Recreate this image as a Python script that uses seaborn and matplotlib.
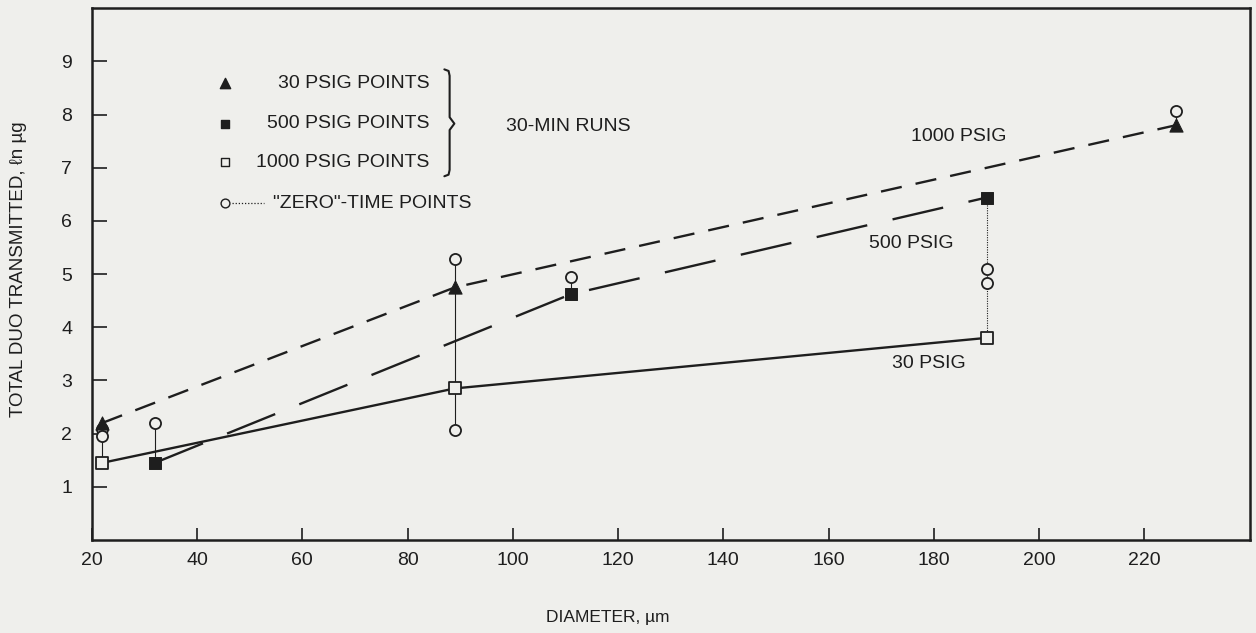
import matplotlib
matplotlib.use("Agg")
import matplotlib.pyplot as plt
import seaborn as sns
import pandas as pd

# ---- data ----
diam_30 = [22, 89, 226]
val_30 = [2.2, 4.75, 7.8]          # filled triangles, "1000 PSIG" dashed line
diam_500 = [32, 111, 190]
val_500 = [1.45, 4.62, 6.44]       # filled squares, "500 PSIG" long-dash line
diam_1000 = [22, 89, 190]
val_1000 = [1.45, 2.85, 3.8]       # open squares, "30 PSIG" solid line
zero_diam = [22, 22, 32, 89, 89, 111, 190, 190, 226]
zero_val = [2.08, 1.95, 2.2, 5.28, 2.06, 4.94, 5.09, 4.83, 8.06]

x_ticks = [20, 40, 60, 80, 100, 120, 140, 160, 180, 200, 220]
y_ticks = [1, 2, 3, 4, 5, 6, 7, 8, 9]

bg = "#efefec"
ink = "#1e1e1e"
fs = 14

sns.set_theme(style="white")
plt.rcParams["font.family"] = ["Liberation Sans", "DejaVu Sans"]

fig = plt.figure(figsize=(12.56, 6.33), dpi=100, facecolor=bg)
ax = fig.add_axes([0.073, 0.147, 0.922, 0.84])
ax.set_facecolor(bg)

df30 = pd.DataFrame({"d": diam_30, "v": val_30})
df500 = pd.DataFrame({"d": diam_500, "v": val_500})
df1000 = pd.DataFrame({"d": diam_1000, "v": val_1000})
dfz = pd.DataFrame({"d": zero_diam, "v": zero_val})

# vertical connectors between zero-time points and run points
alld = pd.concat([df30, df500, df1000, dfz])
for d, g in alld.groupby("d"):
    ls = (0, (1, 1.2)) if d == 190 else "-"
    ax.vlines(d, g["v"].min(), g["v"].max(), color=ink, lw=0.8, linestyle=ls, zorder=1)

# fitted lines
sns.lineplot(data=df30, x="d", y="v", ax=ax, color=ink, lw=1.7, zorder=2)
ax.lines[-1].set_dashes((9, 6))
sns.lineplot(data=df500, x="d", y="v", ax=ax, color=ink, lw=1.7, zorder=2)
ax.lines[-1].set_dashes((22, 11))
sns.lineplot(data=df1000, x="d", y="v", ax=ax, color=ink, lw=1.7, zorder=2)

# markers
sns.scatterplot(data=dfz, x="d", y="v", ax=ax, marker="o", s=64,
                facecolor=bg, edgecolor=ink, linewidth=1.3, zorder=3)
sns.scatterplot(data=df1000, x="d", y="v", ax=ax, marker="s", s=75,
                facecolor=bg, edgecolor=ink, linewidth=1.3, zorder=4)
sns.scatterplot(data=df500, x="d", y="v", ax=ax, marker="s", s=75,
                color=ink, edgecolor=ink, zorder=4)
sns.scatterplot(data=df30, x="d", y="v", ax=ax, marker="^", s=90,
                color=ink, edgecolor=ink, zorder=5)

ax.set_xlim(20, 240)
ax.set_ylim(0, 10)
ax.set_xticks(x_ticks)
ax.set_yticks(y_ticks)
ax.tick_params(axis="x", bottom=True, direction="in", length=8.5, width=1.2,
               colors=ink, labelsize=fs, pad=9, labelcolor=ink)
ax.tick_params(axis="y", left=True, direction="in", length=11, width=1.2,
               colors=ink, labelsize=fs, pad=14, labelcolor=ink)
for s in ax.spines.values():
    s.set_color(ink)
    s.set_linewidth(1.8)
    s.set_visible(True)

ax.set_xlabel("DIAMETER, µm", fontsize=12.5, color=ink)
ax.xaxis.set_label_coords(0.4456, -0.132)
ax.set_ylabel("TOTAL DUO TRANSMITTED, ℓn µg", fontsize=13.5, color=ink)
ax.yaxis.set_label_coords(-0.056, 0.51)

# legend-like annotations
lx = 45.3
ys = [8.59, 7.83, 7.1, 6.33]
ax.scatter([lx], [ys[0]], marker="^", s=55, color=ink, zorder=5)
ax.scatter([lx], [ys[1]], marker="s", s=40, color=ink, zorder=5)
ax.scatter([lx], [ys[2]], marker="s", s=40, facecolor=bg, edgecolor=ink, lw=1, zorder=5)
ax.scatter([lx], [ys[3]], marker="o", s=40, facecolor=bg, edgecolor=ink, lw=1, zorder=5)
ax.plot([lx + 1.3, lx + 7.5], [ys[3], ys[3]], color=ink, lw=0.9, ls=(0, (1, 1.5)))
for y, t in zip(ys[:3], ["30 PSIG POINTS", "500 PSIG POINTS", "1000 PSIG POINTS"]):
    ax.text(84.2, y, t, ha="right", va="center", fontsize=fs, color=ink)
ax.text(54.4, ys[3], "\"ZERO\"-TIME POINTS", ha="left", va="center", fontsize=fs, color=ink)

# brace
bx, top, bot, mid = 88.0, 8.85, 6.84, 7.83
ax.plot([bx - 1.0, bx - 0.2, bx, bx, bx + 0.9, bx, bx, bx - 0.2, bx - 1.0],
        [top, top - 0.03, top - 0.12, mid + 0.12, mid, mid - 0.12, bot + 0.12, bot + 0.03, bot],
        color=ink, lw=1.5, solid_joinstyle="round")
ax.text(98.8, 7.78, "30-MIN RUNS", ha="left", va="center", fontsize=fs, color=ink)

ax.text(175.7, 7.59, "1000 PSIG", ha="left", va="center", fontsize=fs, color=ink)
ax.text(167.7, 5.58, "500 PSIG", ha="left", va="center", fontsize=fs, color=ink)
ax.text(172.1, 3.32, "30 PSIG", ha="left", va="center", fontsize=fs, color=ink)

fig.savefig("out.png", dpi=100, facecolor=bg)
